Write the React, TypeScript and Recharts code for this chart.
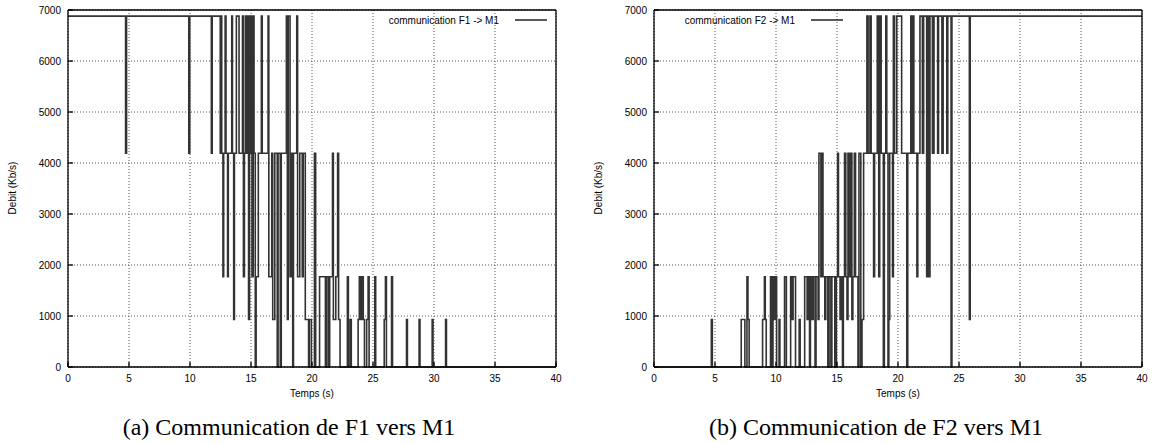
import React from 'react';
import { LineChart, Line, XAxis, YAxis, CartesianGrid, Customized } from 'recharts';

// ---- axis ticks ----
const xTicks = [0, 5, 10, 15, 20, 25, 30, 35, 40];
const yTicks = [0, 1000, 2000, 3000, 4000, 5000, 6000, 7000];

// ---- (a) communication F1 -> M1 : time (s) and rate (Kb/s), step after ----
const f1Times = [
  0, 4.72, 4.8, 9.9, 9.98, 11.75, 11.82, 12.48, 12.55, 12.6, 12.7, 12.76, 12.88, 12.95,
  13.08, 13.14, 13.42, 13.48, 13.58, 13.64, 13.8, 14.02, 14.3, 14.38, 14.46, 14.55, 14.62,
  14.7, 14.8, 14.88, 14.95, 15.0, 15.08, 15.18, 15.25, 15.35, 15.42, 15.6, 15.85, 15.92,
  16.4, 16.46, 16.7, 16.78, 16.95, 17.15, 17.22, 17.4, 17.48, 17.9, 17.98, 18.05, 18.2,
  18.3, 18.42, 18.48, 18.75, 18.82, 19.0, 19.2, 19.28, 19.45, 19.72, 19.78, 19.95, 20.2,
  20.3, 20.62, 21.1, 21.2, 21.35, 21.45, 21.68, 21.75, 21.95, 22.1, 22.18, 22.3, 22.9,
  22.98, 23.12, 23.22, 23.78, 23.88, 24.0, 24.08, 24.2, 24.3, 24.48, 24.6, 24.68, 25.15,
  25.22, 25.92, 26.02, 26.1, 26.52, 26.6, 27.75, 27.82, 28.78, 28.85, 29.85, 29.92, 30.95,
  31.02, 40,
];
const f1Rates = [
  6880, 4190, 6880, 4190, 6880, 4190, 6880, 4190, 6880, 4190, 1770, 4190, 6880, 4190,
  1770, 4190, 6880, 4190, 930, 4190, 6880, 4190, 6880, 1770, 4190, 6880, 4190,
  6880, 930, 6880, 4190, 6880, 1770, 6880, 4190, 0, 1770, 4190, 6880, 4190,
  6880, 1770, 4190, 930, 4190, 0, 4190, 0, 4190, 6880, 930, 6880, 1770,
  4190, 0, 4190, 6880, 1770, 4190, 1770, 4190, 930, 0, 930, 0, 4190,
  0, 1770, 0, 1770, 0, 1770, 4190, 930, 1770, 4190, 930, 0, 1770,
  0, 930, 0, 930, 1770, 930, 1770, 930, 0, 930, 1770, 0, 1770,
  0, 930, 1770, 0, 1770, 0, 930, 0, 930, 0, 930, 0, 930,
  0, 0,
];

// ---- (b) communication F2 -> M1 ----
const f2Times = [
  0, 4.7, 4.78, 7.15, 7.45, 7.62, 7.7, 7.8, 8.9, 9.05, 9.12, 9.2, 9.55, 9.62, 9.75, 9.85,
  9.95, 10.05, 10.25, 10.32, 10.7, 10.85, 11.2, 11.28, 11.4, 11.6, 11.9, 11.98, 12.35,
  12.55, 12.65, 12.75, 12.82, 12.95, 13.05, 13.2, 13.28, 13.45, 13.52, 13.68, 13.72, 13.85,
  14.0, 14.08, 14.25, 14.35, 14.5, 14.58, 14.82, 14.95, 15.05, 15.12, 15.25, 15.32, 15.45,
  15.52, 15.62, 15.72, 15.82, 15.9, 16.02, 16.1, 16.22, 16.3, 16.42, 16.52, 16.72, 16.8,
  16.95, 17.05, 17.18, 17.45, 17.55, 17.7, 17.8, 18.0, 18.08, 18.3, 18.42, 18.5, 18.62,
  18.8, 18.88, 19.0, 19.08, 19.18, 19.25, 19.32, 19.55, 19.62, 19.72, 19.9, 20.3, 20.72,
  20.8, 21.05, 21.12, 21.2, 21.3, 21.55, 21.62, 21.8, 22.0, 22.1, 22.35, 22.42, 22.55,
  22.62, 22.82, 22.95, 23.25, 23.32, 23.6, 23.7, 24.0, 24.08, 24.35, 24.42, 25.85, 25.92,
  40,
];
const f2Rates = [
  0, 930, 0, 930, 0, 1770, 930, 0, 930, 1770, 930, 0, 1770, 0, 1770, 930,
  1770, 0, 930, 0, 1770, 0, 1770, 930, 1770, 0, 930, 0, 1770,
  930, 1770, 0, 1770, 930, 1770, 0, 1770, 930, 4190, 1770, 4190, 1770,
  930, 1770, 0, 1770, 0, 1770, 0, 1770, 4190, 1770, 930, 1770, 0,
  1770, 4190, 1770, 930, 4190, 1770, 4190, 930, 1770, 4190, 1770, 0, 4190,
  0, 930, 4190, 6880, 4190, 6880, 4190, 1770, 4190, 6880, 1770, 6880, 4190,
  0, 4190, 6880, 4190, 0, 930, 4190, 1770, 6880, 4190, 6880, 4190, 0,
  4190, 6880, 4190, 6880, 4190, 1770, 4190, 6880, 4190, 6880, 1770, 6880, 1770,
  6880, 4190, 6880, 4190, 6880, 4190, 6880, 4190, 6880, 0, 6880, 930, 6880,
  6880,
];

const f1Data = f1Times.map((t, i) => ({ t, rate: f1Rates[i] }));
const f2Data = f2Times.map((t, i) => ({ t, rate: f2Rates[i] }));

const SANS = '"Liberation Sans", Arial, Helvetica, sans-serif';
const SERIF = '"Liberation Serif", "Times New Roman", serif';
const W = 571;
const H = 443;

type PanelProps = {
  data: { t: number; rate: number }[];
  legend: string;
  legendEnd: number;
  caption: string;
  captionX: number;
  left: number;
};

function Panel({ data, legend, legendEnd, caption, captionX, left }: PanelProps) {
  const tickStyle = { fill: '#000', fontSize: 10, fontFamily: SANS };
  return (
    <div style={{ position: 'absolute', left, top: 0, width: W, height: H }}>
      <LineChart width={W} height={H} data={data} margin={{ top: 9, right: 14, bottom: 46, left: 18 }}>
        <CartesianGrid stroke="#555" strokeDasharray="1 2" strokeWidth={1} />
        <XAxis
          dataKey="t"
          type="number"
          domain={[0, 40]}
          ticks={xTicks}
          interval={0}
          height={30}
          tickSize={-5}
          tickMargin={13}
          stroke="#000"
          strokeWidth={1.3}
          tick={tickStyle}
          label={{ value: 'Temps (s)', position: 'bottom', offset: -7, fontSize: 10, fill: '#000', fontFamily: SANS }}
        />
        <XAxis
          xAxisId="top"
          orientation="top"
          dataKey="t"
          type="number"
          domain={[0, 40]}
          ticks={xTicks}
          interval={0}
          height={1}
          tickSize={-5}
          tick={false}
          stroke="#000"
          strokeWidth={1.3}
        />
        <YAxis
          type="number"
          domain={[0, 7000]}
          ticks={yTicks}
          interval={0}
          width={50}
          tickSize={-5}
          tickMargin={12}
          stroke="#000"
          strokeWidth={1.3}
          tick={tickStyle}
        />
        <YAxis
          yAxisId="right"
          orientation="right"
          type="number"
          domain={[0, 7000]}
          ticks={yTicks}
          interval={0}
          width={1}
          tickSize={-5}
          tick={false}
          stroke="#000"
          strokeWidth={1.3}
        />
        <Line
          dataKey="rate"
          type="stepAfter"
          stroke="#333"
          strokeWidth={1.6}
          dot={false}
          isAnimationActive={false}
        />
        <Customized
          component={() => (
            <g>
              <text
                x={12}
                y={188}
                transform="rotate(-90 12 188)"
                textAnchor="middle"
                dominantBaseline="central"
                fontSize={10}
                fontFamily={SANS}
                fill="#000"
              >
                Debit (Kb/s)
              </text>
              <text x={legendEnd} y={20} textAnchor="end" dominantBaseline="central" fontSize={10} fontFamily={SANS} fill="#000">
                {legend}
              </text>
              <line x1={legendEnd + 16} x2={legendEnd + 48} y1={20} y2={20} stroke="#000" strokeWidth={1.3} />
              <text x={captionX} y={435} textAnchor="middle" fontSize={24} fontFamily={SERIF} fill="#000">
                {caption}
              </text>
            </g>
          )}
        />
      </LineChart>
    </div>
  );
}

export default function App() {
  return (
    <div style={{ position: 'absolute', left: 0, top: 0, width: 1157, height: 443, overflow: 'hidden', background: '#fff' }}>
      <Panel data={f1Data} legend="communication F1 -> M1" legendEnd={499} caption="(a) Communication de F1 vers M1" captionX={289} left={0} />
      <Panel data={f2Data} legend="communication F2 -> M1" legendEnd={209} caption="(b) Communication de F2 vers M1" captionX={290} left={586} />
    </div>
  );
}
